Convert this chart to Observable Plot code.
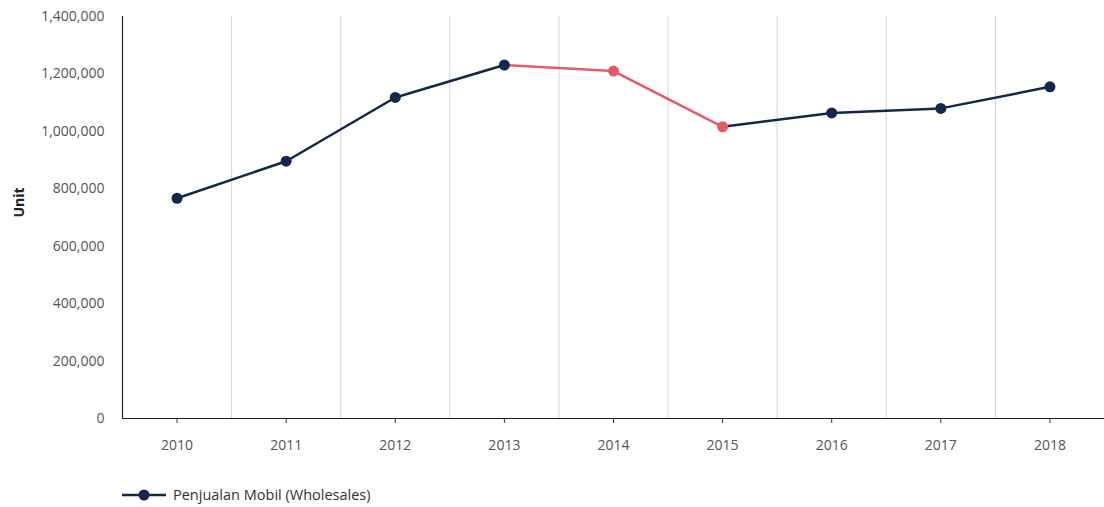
<!DOCTYPE html>
<html>
<head>
<meta charset="utf-8">
<script src="https://cdn.jsdelivr.net/npm/d3@7"></script>
<script src="https://cdn.jsdelivr.net/npm/@observablehq/plot@0.6"></script>
<style>
  html, body { margin: 0; padding: 0; background: #fff; }
  body { width: 1104px; height: 507px; overflow: hidden; font-family: "Open Sans", Roboto, sans-serif; }
  #legend { position: absolute; left: 122px; top: 485px; display: flex; align-items: center; font-size: 14.5px; color: #333; }
  #legend svg { margin-right: 5px; }
</style>
</head>
<body>
<div id="chart"></div>
<div id="legend"></div>
<script>
const years = [2010, 2011, 2012, 2013, 2014, 2015, 2016, 2017, 2018];
const sales = [767000, 896000, 1118000, 1231000, 1210000, 1016000, 1064000, 1080000, 1155000];
const declineYears = [2014, 2015];
const yTicks = [0, 200000, 400000, 600000, 800000, 1000000, 1200000, 1400000];
const seriesName = "Penjualan Mobil (Wholesales)";
const yLabel = "Unit";

const navy = "#14284b";
const red = "#e45c69";

const data = years.map((year, i) => ({year, value: sales[i], decline: declineYears.includes(year)}));
const segments = data.slice(1).map((d, i) => ({
  x1: data[i].year, y1: data[i].value, x2: d.year, y2: d.value, decline: d.decline
}));
const gridYears = years.slice(1).map(y => y - 0.5);

const chart = Plot.plot({
  width: 1104,
  height: 470,
  marginLeft: 122,
  marginRight: 0,
  marginTop: 16,
  marginBottom: 52,
  style: {fontFamily: "'Open Sans', Roboto, sans-serif", fontSize: "13px", color: "#555", background: "#fff"},
  x: {domain: [years[0] - 0.5, years[years.length - 1] + 0.5], label: null},
  y: {domain: [0, 1400000], label: null},
  marks: [
    Plot.ruleX(gridYears, {stroke: "#d4d4d4", strokeWidth: 1}),
    Plot.axisY({ticks: yTicks, tickFormat: d3.format(","), tickSize: 0, tickPadding: 18, fill: "#555", fontSize: 14}),
    Plot.axisX({ticks: years, tickFormat: "d", tickSize: 5, tickPadding: 17, stroke: "#333", fill: "#555", fontSize: 14}),
    Plot.ruleX([years[0] - 0.5], {stroke: "#222", strokeWidth: 1.2}),
    Plot.ruleY([0], {stroke: "#222", strokeWidth: 1.2}),
    Plot.link(segments, {x1: "x1", y1: "y1", x2: "x2", y2: "y2", stroke: d => d.decline ? red : navy, strokeWidth: 2.5}),
    Plot.dot(data, {x: "year", y: "value", r: 5.5, fill: d => d.decline ? red : navy, stroke: "none"}),
    Plot.text([yLabel], {frameAnchor: "left", dx: -103, rotate: -90, fontWeight: "bold", fill: "#222", fontSize: 14})
  ]
});
document.getElementById("chart").appendChild(chart);

const legend = document.getElementById("legend");
legend.innerHTML = `<svg width="46" height="14"><line x1="0" y1="7" x2="44" y2="7" stroke="${navy}" stroke-width="2.5"/><circle cx="22" cy="7" r="5.5" fill="${navy}"/></svg><span></span>`;
legend.querySelector("span").textContent = seriesName;
</script>
</body>
</html>
